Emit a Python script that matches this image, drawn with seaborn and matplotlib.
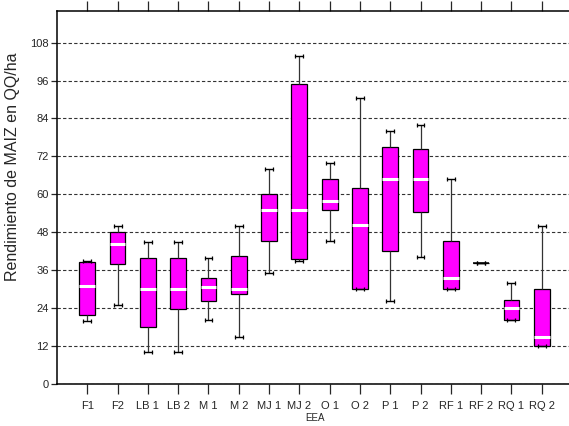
import pandas as pd
import numpy as np
import matplotlib
matplotlib.use("Agg")
import matplotlib.pyplot as plt
import seaborn as sns

# EEA categories and box summary (QQ/ha)
eea = ["F1", "F2", "LB 1", "LB 2", "M 1", "M 2", "MJ 1", "MJ 2",
       "O 1", "O 2", "P 1", "P 2", "RF 1", "RF 2", "RQ 1", "RQ 2"]
w_low = [20.0, 25.0, 10.0, 10.0, 20.1, 15.0, 35.2, 39.0,
         45.3, 30.0, 26.3, 40.1, 30.0, 38.2, 20.1, 12.0]
q1 = [21.8, 38.1, 18.0, 23.6, 26.1, 28.5, 45.1, 39.5,
      55.0, 30.0, 42.1, 54.5, 30.0, 38.2, 20.1, 12.0]
med = [31.0, 44.3, 30.0, 30.0, 30.7, 30.1, 55.2, 54.9,
       57.9, 50.3, 64.8, 64.8, 33.5, 38.2, 24.0, 15.0]
q3 = [38.7, 48.0, 39.9, 39.9, 33.5, 40.5, 60.2, 95.0,
      64.8, 61.9, 74.9, 74.3, 45.2, 38.2, 26.7, 30.0]
w_high = [38.9, 50.1, 44.9, 44.9, 39.9, 50.1, 68.1, 103.9,
          70.0, 90.6, 79.9, 82.0, 64.8, 38.2, 32.1, 50.0]
yticks = list(range(0, 109, 12))

# five values per group -> quartiles land exactly on q1/med/q3
rows = []
for i, name in enumerate(eea):
    for v in (w_low[i], q1[i], med[i], q3[i], w_high[i]):
        rows.append({"EEA": name, "val": v})
df = pd.DataFrame(rows)

sns.set_style("ticks")
plt.rcParams["font.family"] = ["Liberation Sans", "DejaVu Sans"]

fig = plt.figure(figsize=(5.69, 4.26), dpi=100)
ax = fig.add_axes([57 / 569, 42 / 426, 515 / 569, 373 / 426])

ax.set_axisbelow(True)
ax.yaxis.grid(True, color="#333333", linestyle=(0, (3, 2)), linewidth=0.8)

sns.boxplot(data=df, x="EEA", y="val", order=eea, ax=ax,
            whis=(0, 100), width=0.52, color="#FF00FF", saturation=1,
            linecolor="black", linewidth=0.9,
            medianprops=dict(color="white", linewidth=2.2),
            whiskerprops=dict(color="#333333", linewidth=0.9),
            capprops=dict(color="black", linewidth=1.0,
                          marker="|", markersize=2.5, markeredgewidth=0.9))

# a group with no spread shows only a black bar, not the white median
for ln in ax.lines:
    yd = np.asarray(ln.get_ydata(), dtype=float)
    if ln.get_color() == "white" and len(yd) and np.allclose(yd, med[eea.index("RF 2")]):
        ln.set_color("black")
        ln.set_linewidth(1.1)
        ln.set_zorder(5)

ax.set_xlim(-1, 16)
ax.set_ylim(0, 118)
ax.set_yticks(yticks)
ax.set_yticklabels([str(t) for t in yticks], fontsize=8)
ax.tick_params(axis="x", labelsize=8, length=7, width=0.9, top=True,
               direction="out", pad=5)
ax.tick_params(axis="y", length=4, width=0.9, pad=2)
ax.set_xlabel("EEA", fontsize=7, labelpad=1.5)
ax.set_ylabel("Rendimiento de MAIZ en QQ/ha", fontsize=11.5)
ax.yaxis.set_label_coords(-0.072, 0.582)
for s in ax.spines.values():
    s.set_linewidth(1.1)
    s.set_color("black")

fig.savefig("out.png", dpi=100)
